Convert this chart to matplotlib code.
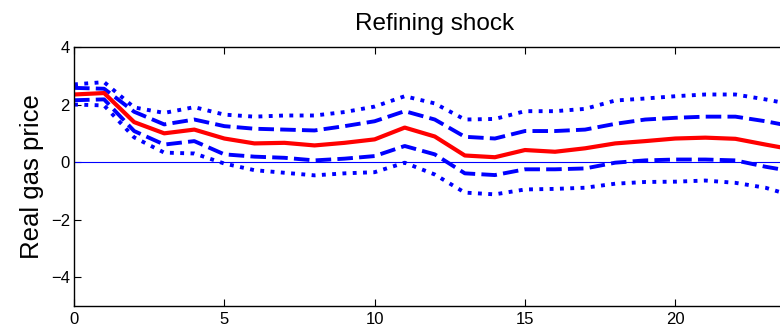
import matplotlib
matplotlib.use("Agg")
import matplotlib.pyplot as plt

plt.rcParams["font.family"] = ["Liberation Sans", "DejaVu Sans"]

# impulse response of real gas price to a refining shock
horizon = list(range(25))
median = [2.35, 2.40, 1.39, 1.00, 1.13, 0.82, 0.65, 0.67, 0.58, 0.67, 0.79, 1.20, 0.89,
          0.23, 0.17, 0.42, 0.36, 0.48, 0.65, 0.73, 0.82, 0.85, 0.81, 0.61, 0.42]
upper68 = [2.58, 2.55, 1.75, 1.31, 1.48, 1.25, 1.16, 1.13, 1.10, 1.25, 1.42, 1.77, 1.48,
           0.88, 0.82, 1.08, 1.08, 1.13, 1.33, 1.48, 1.54, 1.58, 1.58, 1.42, 1.22]
lower68 = [2.15, 2.18, 1.08, 0.61, 0.73, 0.27, 0.19, 0.15, 0.06, 0.12, 0.21, 0.56, 0.27,
           -0.39, -0.45, -0.25, -0.25, -0.22, -0.02, 0.06, 0.09, 0.09, 0.06, -0.16, -0.34]
upper90 = [2.70, 2.78, 1.90, 1.71, 1.91, 1.65, 1.58, 1.62, 1.62, 1.74, 1.93, 2.29, 2.04,
           1.48, 1.50, 1.77, 1.77, 1.85, 2.14, 2.21, 2.29, 2.35, 2.35, 2.18, 1.98]
lower90 = [2.00, 1.97, 0.86, 0.33, 0.30, -0.05, -0.28, -0.37, -0.46, -0.39, -0.35, -0.02, -0.43,
           -1.06, -1.12, -0.95, -0.93, -0.89, -0.75, -0.69, -0.68, -0.64, -0.72, -0.89, -1.20]

fig = plt.figure(figsize=(7.8, 3.31), dpi=100)
ax = fig.add_axes([0.0949, 0.0755, 0.925, 0.7825])

ax.axhline(0, color="blue", linewidth=0.8)
ax.plot(horizon, upper90, color="blue", linewidth=2.8, linestyle=":")
ax.plot(horizon, lower90, color="blue", linewidth=2.8, linestyle=":")
ax.plot(horizon, upper68, color="blue", linewidth=2.8, linestyle=(0, (4, 1.6)))
ax.plot(horizon, lower68, color="blue", linewidth=2.8, linestyle=(0, (4, 1.6)))
ax.plot(horizon, median, color="red", linewidth=3.0, solid_capstyle="butt")

ax.set_xlim(0, 24)
ax.set_ylim(-5, 4)
ax.set_xticks([0, 5, 10, 15, 20])
ax.set_yticks([-4, -2, 0, 2, 4])
ax.tick_params(direction="in", length=5, width=0.8, labelsize=12,
               top=True, right=True)
ax.tick_params(axis="x", pad=4)
ax.tick_params(axis="y", pad=3)
for s in ax.spines.values():
    s.set_linewidth(1.0)

ax.set_title("Refining shock", fontsize=17.5, pad=12)
ax.set_ylabel("Real gas price", fontsize=18.5, labelpad=5)

fig.savefig("out.png", dpi=100)
